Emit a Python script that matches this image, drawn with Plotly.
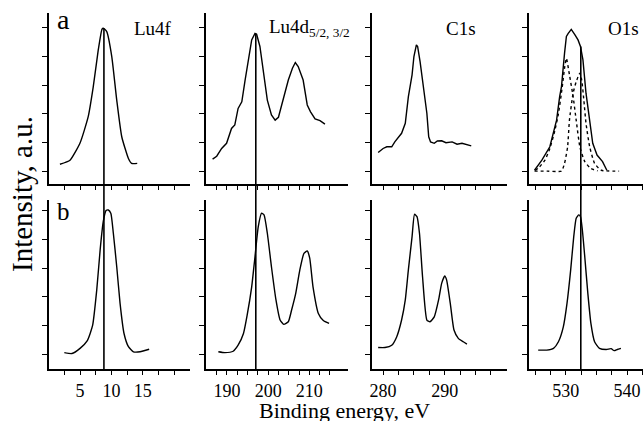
import plotly.graph_objects as go

# ---- spectra (binding energy in eV, intensity in arbitrary units) ----
# row a
lu4f_a_x = [1.8, 3.4, 5.0, 6.3, 7.1, 7.9, 8.5, 8.7, 9.25, 10.05, 10.84, 11.64, 12.7, 13.2, 14.1]
lu4f_a_y = [0.24, 0.38, 0.98, 1.9, 2.94, 4.23, 4.96, 4.99, 4.87, 4.0, 2.48, 1.2, 0.44, 0.27, 0.27]

lu4d_a_x = [186.5, 187.5, 188.7, 189.9, 191.1, 191.9, 192.7, 193.6, 194.4, 195.2, 196.0, 196.8,
            197.2, 198.0, 198.8, 199.8, 200.8, 201.7, 202.5, 203.7, 204.9, 205.9, 206.6, 207.3,
            208.5, 209.5, 210.3, 211.4, 212.6, 213.8]
lu4d_a_y = [0.42, 0.52, 0.79, 0.97, 1.49, 1.61, 2.19, 2.42, 3.18, 3.94, 4.58, 4.81,
            4.78, 4.35, 3.53, 2.48, 1.96, 1.78, 1.88, 2.54, 3.18, 3.59, 3.79, 3.65,
            3.18, 2.31, 2.07, 1.82, 1.76, 1.64]

c1s_a_x = [279.2, 280.0, 280.6, 281.4, 281.9, 282.5, 283.0, 283.6, 284.1, 284.7, 285.0, 285.4,
           285.6, 286.0, 286.5, 287.1, 287.4, 287.7, 288.3, 288.8, 289.5, 290.2, 291.2, 292.0,
           292.8, 293.6, 294.3]
c1s_a_y = [0.65, 0.79, 0.85, 0.85, 1.02, 1.2, 1.32, 1.67, 2.6, 3.36, 4.0, 4.41,
           4.35, 3.82, 3.07, 2.02, 1.2, 1.02, 0.97, 1.05, 1.06, 0.99, 1.02, 0.94,
           0.97, 0.91, 0.88]

o1s_a_x = [524.9, 526.1, 527.4, 528.2, 528.5, 529.0, 529.3, 529.8, 530.1, 530.4, 530.9, 531.5,
           532.0, 532.4, 532.8, 533.3, 533.9, 534.4, 535.1, 536.0, 536.7]
o1s_a_y = [0.03, 0.38, 0.85, 1.55, 1.78, 2.6, 2.95, 4.12, 4.7, 4.81, 4.95, 4.76,
           4.58, 4.35, 3.88, 2.72, 1.78, 0.97, 0.56, 0.33, 0.03]
# fitted O1s components
o1s_c1_x = [525.0, 525.5, 526.6, 527.4, 528.2, 528.8, 529.4, 529.8, 530.1, 530.6, 531.2, 531.7,
            532.3, 533.1, 534.1, 535.2]
o1s_c1_y = [0.02, 0.1, 0.38, 0.79, 1.4, 2.0, 2.9, 3.6, 3.94, 3.36, 2.6, 1.78,
            0.85, 0.33, 0.09, 0.01]
o1s_c2_x = [524.9, 527.0, 529.3, 529.8, 530.3, 530.6, 531.2, 531.7, 532.3, 532.6, 532.95, 533.3,
            533.9, 534.7, 535.8, 538.7]
o1s_c2_y = [0.0, 0.0, 0.0, 0.27, 0.85, 1.78, 2.72, 3.12, 3.42, 3.18, 2.48, 1.67,
            0.85, 0.27, 0.03, 0.0]

# row b
lu4f_b_x = [2.5, 3.7, 5.0, 6.16, 7.0, 7.66, 8.2, 8.7, 9.14, 9.5, 9.9, 10.3, 10.84, 11.37,
            12.0, 12.7, 13.5, 14.55, 16.0]
lu4f_b_y = [0.05, 0.02, 0.2, 0.47, 1.0, 2.24, 3.64, 4.63, 5.01, 5.03, 4.92, 4.22, 3.05, 1.77,
            0.72, 0.26, 0.08, 0.08, 0.17]

lu4d_b_x = [187.9, 189.5, 191.5, 192.7, 194.0, 194.9, 196.0, 196.8, 197.6, 198.4, 199.0, 199.8,
            200.8, 201.9, 202.9, 203.8, 204.9, 205.7, 206.7, 207.7, 208.7, 209.5, 210.1, 210.9,
            212.2, 213.4, 214.8]
lu4d_b_y = [0.08, 0.05, 0.10, 0.31, 0.72, 1.36, 2.35, 3.40, 4.45, 4.92, 4.86, 4.22,
            3.05, 1.89, 1.19, 1.04, 1.13, 1.54, 2.12, 2.94, 3.52, 3.60, 3.35, 2.35,
            1.42, 1.17, 1.07]

c1s_b_x = [279.2, 280.3, 281.4, 282.2, 283.0, 283.6, 284.1, 284.7, 285.1, 285.5, 285.9, 286.4,
           287.1, 287.6, 288.3, 289.0, 289.5, 290.0, 290.3, 290.9, 291.5, 292.2, 293.0, 293.6]
c1s_b_y = [0.23, 0.23, 0.31, 0.6, 1.19, 1.89, 2.94, 4.1, 4.88, 4.8, 4.22, 2.7,
           1.19, 1.13, 1.3, 1.89, 2.47, 2.73, 2.59, 1.77, 0.84, 0.55, 0.43, 0.35]

o1s_b_x = [525.5, 526.9, 528.0, 528.8, 529.6, 530.2, 530.8, 531.3, 531.7, 532.1, 532.4, 532.7,
           533.1, 533.6, 534.1, 534.7, 535.5, 536.6, 537.4, 537.9, 538.4, 539.0]
o1s_b_y = [0.14, 0.14, 0.2, 0.43, 0.95, 1.77, 2.94, 4.1, 4.74, 4.86, 4.8, 4.34,
           3.4, 2.12, 1.07, 0.43, 0.2, 0.16, 0.19, 0.12, 0.16, 0.2]

# reference energies marked by vertical lines: (column, energy, intensity where the line starts in row a)
ref_lines = [(0, 8.8, 4.99), (1, 197.0, 4.80), (3, 532.45, 4.35)]

# ---- axes ----
panel_names = ["Lu4f", "Lu4d<sub>5/2, 3/2</sub>", "C1s", "O1s"]
x_ranges = [[0.06, 22.5], [184.9, 219.4], [278.2, 300.1], [524.0, 542.6]]
x_ticks = [
    [2.5, 5, 7.5, 10, 12.5, 15, 17.5, 20],
    [187.5, 190, 192.5, 195, 197.5, 200, 202.5, 205, 207.5, 210, 212.5, 215],
    [280, 282.5, 285, 287.5, 290, 292.5, 295, 297.5],
    [525, 527.5, 530, 532.5, 535, 537.5, 540, 542.5],
]
x_labels = [
    {5: "5", 10: "10", 15: "15"},
    {190: "190", 200: "200", 210: "210"},
    {280: "280", 290: "290"},
    {530: "530", 540: "540"},
]
y_ticks = [0, 1, 2, 3, 4, 5]
y_range_a = [-0.45, 5.52]
y_range_b = [-0.52, 5.38]

W, H = 643, 421
col_px = [(49, 190), (206, 348), (372, 507), (529, 643)]
row_a_px = (13, 184)
row_b_px = (200, 369)
col_dom = [[a / W, b / W] for a, b in col_px]
row_a_dom = [1 - row_a_px[1] / H, 1 - row_a_px[0] / H]
row_b_dom = [1 - row_b_px[1] / H, 1 - row_b_px[0] / H]

FONT = "Liberation Serif"
LINE = dict(color="black", width=1.4)

fig = go.Figure()

def add(x, y, n, dash=None, smooth=True):
    ln = dict(LINE)
    if dash:
        ln["dash"] = dash
    if smooth:
        ln["shape"] = "spline"
        ln["smoothing"] = 0.5
    fig.add_trace(go.Scatter(x=x, y=y, mode="lines", line=ln,
                             xaxis="x" if n == 1 else f"x{n}",
                             yaxis="y" if n == 1 else f"y{n}",
                             showlegend=False, hoverinfo="skip"))

add(lu4f_a_x, lu4f_a_y, 1)
add(lu4d_a_x, lu4d_a_y, 2, smooth=False)
add(c1s_a_x, c1s_a_y, 3, smooth=False)
add(o1s_c1_x, o1s_c1_y, 4, dash="3px,3px")
add(o1s_c2_x, o1s_c2_y, 4, dash="3px,3px")
add(o1s_a_x, o1s_a_y, 4, smooth=False)
add(lu4f_b_x, lu4f_b_y, 5)
add(lu4d_b_x, lu4d_b_y, 6)
add(c1s_b_x, c1s_b_y, 7)
add(o1s_b_x, o1s_b_y, 8)

layout = dict(
    width=W, height=H,
    margin=dict(l=0, r=0, t=0, b=0, autoexpand=False),
    paper_bgcolor="white", plot_bgcolor="white",
    font=dict(family=FONT, color="black", size=18),
    showlegend=False,
)

for row in range(2):
    for c in range(4):
        n = c + 1 + 4 * row
        xs = "" if n == 1 else str(n)
        ticktext = [x_labels[c].get(v, " ") if row == 1 else " " for v in x_ticks[c]]
        layout[f"xaxis{xs}"] = dict(
            domain=col_dom[c], anchor=f"y{xs}", range=x_ranges[c],
            showgrid=False, zeroline=False, showline=True, linecolor="black", linewidth=2,
            ticks="outside", ticklen=4, tickwidth=1.3, tickcolor="black",
            tickmode="array", tickvals=x_ticks[c], ticktext=ticktext, tickangle=0,
            showticklabels=(row == 1), tickfont=dict(family=FONT, size=18, color="black"),
            automargin=False, fixedrange=True,
        )
        layout[f"yaxis{xs}"] = dict(
            domain=row_a_dom if row == 0 else row_b_dom, anchor=f"x{xs}",
            range=y_range_a if row == 0 else y_range_b,
            showgrid=False, zeroline=False, showline=True, linecolor="black", linewidth=2,
            ticks="outside", ticklen=5, tickwidth=1.3, tickcolor="black",
            tickmode="array", tickvals=y_ticks, showticklabels=False,
            automargin=False, fixedrange=True,
        )

shapes = []
for c, xv, top in ref_lines:
    n = c + 1
    xs = "" if n == 1 else str(n)
    # part inside the upper panel
    fig.add_trace(go.Scatter(x=[xv, xv], y=[top, y_range_a[0]], mode="lines",
                             line=dict(color="black", width=1.6),
                             xaxis=f"x{xs}", yaxis=f"y{xs}", showlegend=False, hoverinfo="skip"))
    # continuation through the lower panel
    shapes.append(dict(type="line", xref=f"x{c + 5}", yref="paper",
                       x0=xv, x1=xv, y0=row_b_dom[0], y1=row_a_dom[0],
                       line=dict(color="black", width=1.6), layer="above"))
layout["shapes"] = shapes

annotations = [
    dict(text="a", x=55 / W, y=1 - 19 / H, xanchor="left", yanchor="middle",
         font=dict(family=FONT, size=28)),
    dict(text="b", x=55 / W, y=1 - 211 / H, xanchor="left", yanchor="middle",
         font=dict(family=FONT, size=25)),
    dict(text=panel_names[0], x=174 / W, y=1 - 28 / H, xanchor="right", yanchor="middle",
         font=dict(family=FONT, size=19)),
    dict(text=panel_names[1], x=352 / W, y=1 - 28 / H, xanchor="right", yanchor="middle",
         font=dict(family=FONT, size=19)),
    dict(text=panel_names[2], x=478 / W, y=1 - 28 / H, xanchor="right", yanchor="middle",
         font=dict(family=FONT, size=19)),
    dict(text=panel_names[3], x=641 / W, y=1 - 28 / H, xanchor="right", yanchor="middle",
         font=dict(family=FONT, size=19)),
    dict(text="Binding energy, eV", x=344 / W, y=1 - 410 / H, xanchor="center", yanchor="middle",
         font=dict(family=FONT, size=22)),
    dict(text="Intensity, a.u.", x=22 / W, y=1 - 194 / H, xanchor="center", yanchor="middle",
         textangle=-90, font=dict(family=FONT, size=29)),
]
for a in annotations:
    a.update(xref="paper", yref="paper", showarrow=False)
layout["annotations"] = annotations

fig.update_layout(**layout)
fig.write_html("out.html")
